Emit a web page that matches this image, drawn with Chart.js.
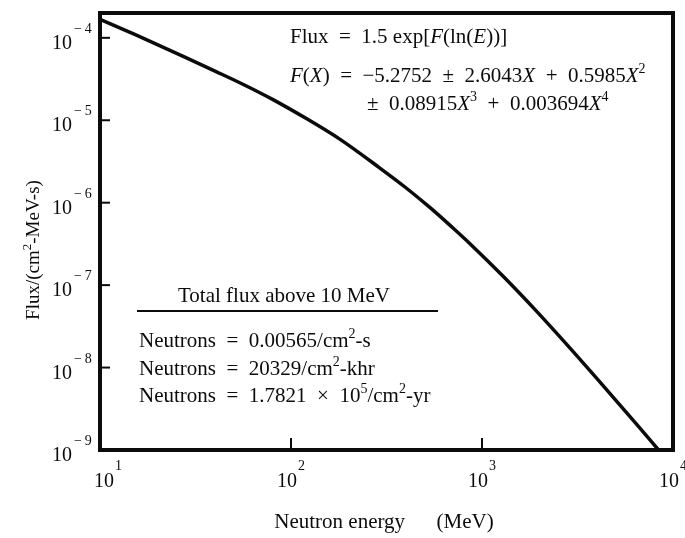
<!DOCTYPE html>
<html lang="en">
<head>
  <meta charset="UTF-8">
  <title>Neutron flux spectrum</title>
  <script src="https://cdn.jsdelivr.net/npm/chart.js"></script>
  <style>
    html, body {
      margin: 0;
      padding: 0;
      background: #fff;
    }
    #chart-container {
      width: 685px;
      height: 538px;
      position: relative;
    }
  </style>
</head>
<body>
  <div id="chart-container">
    <canvas id="fluxChart"></canvas>
  </div>

  <script>
    // Curve values (MeV, flux per cm2-MeV-s)
    const energies = [10, 15.2, 28, 40, 57, 80.5, 121, 180, 292, 395, 535, 700, 865, 1294, 1933, 2890, 4315, 6457, 8400];
    const flux = [1.68e-4, 1.1e-4, 5.8e-5, 3.95e-5, 2.68e-5, 1.78e-5, 1.04e-5, 5.9e-6, 2.63e-6, 1.55e-6, 8.7e-7, 5.0e-7, 3.18e-7, 1.27e-7, 4.8e-8, 1.72e-8, 6.0e-9, 2.05e-9, 1.0e-9];

    // Axis decades and their exponent labels
    const xTicks = [10, 100, 1000, 10000];
    const xTickExp = ["1", "2", "3", "4"];
    const yTicks = [1e-4, 1e-5, 1e-6, 1e-7, 1e-8, 1e-9];
    const yTickExp = ["\u2212\u20094", "\u2212\u20095", "\u2212\u20096", "\u2212\u20097", "\u2212\u20098", "\u2212\u20099"];

    // Text on the figure: [text, kind]  kind: "" upright, "i" italic, "s" superscript
    const SP = "\u2002";
    const formula1 = [["Flux" + SP + "=" + SP + "1.5 exp[", ""], ["F", "i"], ["(ln(", ""], ["E", "i"], ["))]", ""]];
    const formula2 = [["F", "i"], ["(", ""], ["X", "i"], [")" + SP + "=" + SP + "\u22125.2752" + SP + "\u00b1" + SP + "2.6043", ""], ["X", "i"],
                      [SP + "+" + SP + "0.5985", ""], ["X", "i"], ["2", "s"]];
    const formula3 = [["\u00b1" + SP + "0.08915", ""], ["X", "i"], ["3", "s"], [SP + "+" + SP + "0.003694", ""], ["X", "i"], ["4", "s"]];
    const totalTitle = "Total flux above 10 MeV";
    const totalRows = [
      [["Neutrons" + SP + "=" + SP + "0.00565/cm", ""], ["2", "s"], ["-s", ""]],
      [["Neutrons" + SP + "=" + SP + "20329/cm", ""], ["2", "s"], ["-khr", ""]],
      [["Neutrons" + SP + "=" + SP + "1.7821" + SP + "\u00d7" + SP + "10", ""], ["5", "s"], ["/cm", ""], ["2", "s"], ["-yr", ""]]
    ];
    const yTitle = [["Flux/(cm", ""], ["2", "s"], ["-MeV-s)", ""]];
    const xTitle = "Neutron energy" + SP + SP + SP + "(MeV)";

    const FONT = '"Liberation Serif", "DejaVu Serif", serif';
    const INK = "#0b0b0b";

    function drawRich(ctx, x, y, parts, size) {
      for (const [t, k] of parts) {
        const fs = k === "s" ? Math.round(size * 0.68) : size;
        ctx.font = (k === "i" ? "italic " : "") + fs + "px " + FONT;
        const dy = k === "s" ? -size * 0.42 : 0;
        ctx.fillText(t, x, y + dy);
        x += ctx.measureText(t).width;
      }
      return x;
    }

    function richWidth(ctx, parts, size) {
      let w = 0;
      for (const [t, k] of parts) {
        const fs = k === "s" ? Math.round(size * 0.68) : size;
        ctx.font = (k === "i" ? "italic " : "") + fs + "px " + FONT;
        w += ctx.measureText(t).width;
      }
      return w;
    }

    // Frame, inside ticks, tick labels and the printed notes
    const figurePlugin = {
      id: "figure",
      afterDatasetsDraw(chart) {
        const ctx = chart.ctx;
        const area = chart.chartArea;
        const xs = chart.scales.x;
        const ys = chart.scales.y;

        ctx.save();
        ctx.strokeStyle = INK;
        ctx.fillStyle = INK;
        ctx.textBaseline = "alphabetic";
        ctx.textAlign = "left";

        // tick marks
        ctx.lineWidth = 2;
        yTicks.forEach(v => {
          const y = ys.getPixelForValue(v);
          ctx.beginPath();
          ctx.moveTo(area.left, y);
          ctx.lineTo(area.left + 10, y);
          ctx.stroke();
        });
        xTicks.forEach(v => {
          const x = xs.getPixelForValue(v);
          ctx.beginPath();
          ctx.moveTo(x, area.bottom);
          ctx.lineTo(x, area.bottom - 12);
          ctx.stroke();
        });

        // frame
        ctx.lineWidth = 4;
        ctx.strokeRect(area.left, area.top, area.right - area.left, area.bottom - area.top);

        // y tick labels
        yTicks.forEach((v, i) => {
          const y = ys.getPixelForValue(v);
          ctx.font = "20px " + FONT;
          const w = ctx.measureText("10").width;
          ctx.fillText("10", area.left - 28 - w, y + 11);
          ctx.font = "14px " + FONT;
          ctx.fillText(yTickExp[i], area.left - 26, y - 5);
        });

        // x tick labels
        xTicks.forEach((v, i) => {
          const x = xs.getPixelForValue(v);
          ctx.font = "20px " + FONT;
          const w = ctx.measureText("10").width;
          const shift = i === 0 ? 8 : 0;
          ctx.fillText("10", x + 6 + shift - w, 487);
          ctx.font = "14px " + FONT;
          ctx.fillText(xTickExp[i], x + 7 + shift, 470);
        });

        // axis titles
        ctx.font = "21px " + FONT;
        const xtw = ctx.measureText(xTitle).width;
        ctx.fillText(xTitle, 384 - xtw / 2, 528);

        ctx.save();
        ctx.translate(39, 250);
        ctx.rotate(-Math.PI / 2);
        const ytw = richWidth(ctx, yTitle, 19);
        drawRich(ctx, -ytw / 2, 0, yTitle, 19);
        ctx.restore();

        // formula block
        drawRich(ctx, 290, 43, formula1, 21);
        drawRich(ctx, 290, 82, formula2, 21);
        drawRich(ctx, 367, 110, formula3, 21);

        // total flux block
        ctx.font = "21px " + FONT;
        ctx.fillText(totalTitle, 178, 302);
        ctx.lineWidth = 2;
        ctx.beginPath();
        ctx.moveTo(137, 311);
        ctx.lineTo(438, 311);
        ctx.stroke();
        const rowBase = [347, 375, 402];
        totalRows.forEach((row, i) => drawRich(ctx, 139, rowBase[i], row, 21));

        ctx.restore();
      }
    };

    const ctx = document.getElementById("fluxChart").getContext("2d");
    new Chart(ctx, {
      type: "line",
      data: {
        datasets: [
          {
            label: "Flux",
            data: energies.map((e, i) => ({ x: e, y: flux[i] })),
            borderColor: INK,
            borderWidth: 3.5,
            pointRadius: 0,
            fill: false,
            cubicInterpolationMode: "monotone",
          },
        ],
      },
      options: {
        responsive: true,
        maintainAspectRatio: false,
        animation: false,
        layout: {
          padding: { left: 100, right: 12, top: 13, bottom: 88 },
        },
        plugins: {
          legend: { display: false },
          tooltip: { enabled: false },
        },
        scales: {
          x: {
            type: "logarithmic",
            min: 10,
            max: 10000,
            display: false,
          },
          y: {
            type: "logarithmic",
            min: 1e-9,
            max: 2.0e-4,
            display: false,
          },
        },
      },
      plugins: [figurePlugin],
    });
  </script>
</body>
</html>
